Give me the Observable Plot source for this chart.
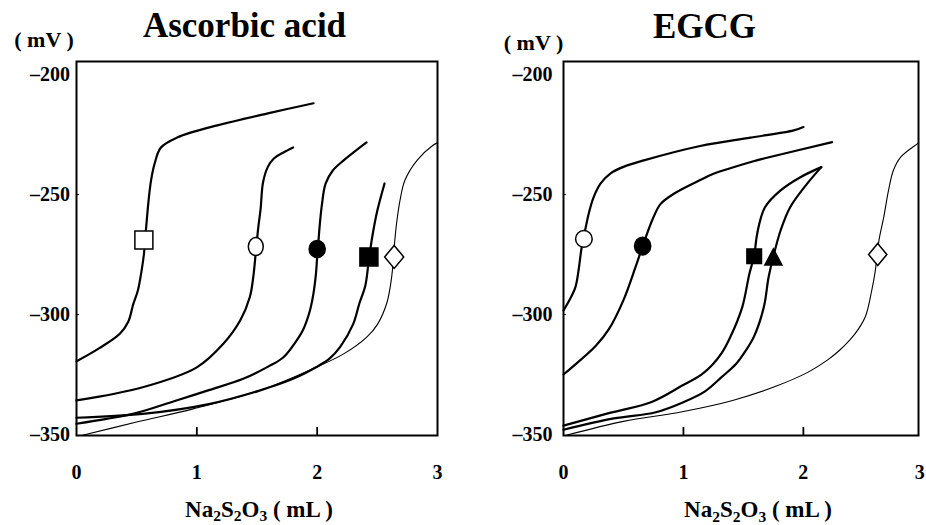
<!DOCTYPE html>
<html><head><meta charset="utf-8">
<script src="https://cdn.jsdelivr.net/npm/d3@7"></script>
<script src="https://cdn.jsdelivr.net/npm/@observablehq/plot@0.6"></script>
<style>
body{margin:0;background:#fff}
#fig{display:flex;width:926px;height:525px;overflow:hidden;background:#fff}
#fig svg{flex:none;overflow:hidden}
</style></head><body><div id="fig"></div>
<script>
// ---- tick labels & titles ----
const xTicks = [0, 1, 2, 3];
const yTicks = [-200, -250, -300, -350];
const panelTitles = ["Ascorbic acid", "EGCG"];
const yUnit = "( mV )";
const xLabelParts = [["Na", false], ["2", true], ["S", false], ["2", true], ["O", false], ["3", true], [" ( mL )", false]];

// ---- Ascorbic acid: titration curves [mL, mV] ----
const ascOpenSquare = [[0,-319.5],[0.19,-314],[0.36,-308],[0.43,-303],[0.47,-296],[0.51,-290],[0.54,-282],[0.56,-275],[0.58,-263],[0.6,-252],[0.62,-244],[0.65,-237],[0.7,-230.5],[0.84,-226.2],[1.17,-221.2],[1.59,-216.2],[1.97,-212]];
const ascOpenCircle = [[0,-335.8],[0.55,-330.3],[1.0,-322],[1.22,-312.2],[1.36,-302.5],[1.44,-292.8],[1.47,-284],[1.49,-274],[1.51,-264],[1.53,-256],[1.55,-245],[1.59,-238.5],[1.64,-235],[1.72,-232.5],[1.8,-230.4]];
const ascFilledCircle = [[0,-345.5],[0.25,-343.5],[0.5,-341],[0.83,-335.8],[1.1,-331.5],[1.385,-326.8],[1.6,-321.5],[1.72,-317.8],[1.82,-311.5],[1.88,-306.7],[1.94,-298.3],[1.97,-291],[1.99,-283],[2.0,-276],[2.01,-270],[2.02,-263.5],[2.04,-254],[2.07,-245.5],[2.13,-240],[2.22,-235.8],[2.41,-228.3]];
const ascFilledSquare = [[0,-343],[0.55,-341.4],[1.11,-337.2],[1.52,-331.7],[1.8,-326.8],[1.99,-322],[2.1,-318.5],[2.19,-313.6],[2.3,-303.9],[2.35,-295.5],[2.4,-288],[2.43,-277],[2.46,-267],[2.5,-256.7],[2.56,-245.4]];
const ascOpenDiamond = [[0.05,-350.3],[0.5,-344.8],[0.97,-339.3],[1.52,-331.7],[1.99,-322],[2.22,-316.4],[2.41,-309.5],[2.5,-304.2],[2.58,-295],[2.62,-284],[2.64,-272],[2.66,-262],[2.69,-252],[2.73,-244],[2.83,-235.8],[2.96,-229.6],[3.0,-228.5]];
const ascMarkers = [
  {series: "openSquare", x: 0.56, y: -269},
  {series: "openCircle", x: 1.49, y: -271.7},
  {series: "filledCircle", x: 2.0, y: -272.7},
  {series: "filledSquare", x: 2.43, y: -276},
  {series: "openDiamond", x: 2.64, y: -276}
];

// ---- EGCG: titration curves [mL, mV] ----
const egcgOpenCircle = [[0,-298.3],[0.05,-294],[0.1,-288.5],[0.13,-280],[0.15,-272.5],[0.18,-265],[0.21,-258],[0.25,-251.3],[0.31,-245.4],[0.39,-241.3],[0.5,-238.5],[0.67,-235.8],[1.14,-229.8],[1.56,-226.3],[1.92,-223.3],[2.0,-221.9]];
const egcgFilledCircle = [[0,-325],[0.08,-321.6],[0.27,-313],[0.38,-306],[0.5,-294],[0.6,-280.3],[0.66,-271.5],[0.75,-259.5],[0.81,-253.9],[0.92,-249.7],[1.14,-244],[1.25,-241.4],[1.61,-235.8],[1.67,-235],[2.24,-228.2]];
const egcgFilledSquare = [[0,-346.3],[0.37,-341.2],[0.74,-336.3],[0.99,-329.6],[1.15,-325],[1.24,-321],[1.32,-316],[1.39,-309.5],[1.49,-297],[1.55,-283],[1.59,-275.5],[1.61,-267.8],[1.64,-260.8],[1.68,-255.3],[1.81,-248.3],[1.975,-242.8],[2.15,-238.6]];
const egcgFilledTriangle = [[0,-348],[0.42,-343.3],[0.77,-340.7],[1.0,-336.5],[1.18,-332],[1.32,-326],[1.44,-320.5],[1.52,-315],[1.59,-309],[1.67,-297],[1.71,-284.5],[1.75,-275.8],[1.81,-265],[1.89,-255.3],[2.03,-245.6],[2.15,-238.6]];
const egcgOpenDiamond = [[0.03,-350.2],[0.5,-344.5],[0.99,-340.5],[1.41,-335.8],[1.77,-329.9],[2.04,-324],[2.2,-319],[2.3,-315],[2.39,-310.5],[2.46,-306],[2.52,-300.5],[2.57,-290],[2.6,-281.7],[2.63,-269.2],[2.67,-259.5],[2.71,-248.3],[2.75,-240],[2.81,-234.5],[2.95,-228.9],[2.96,-228.5]];
const egcgMarkers = [
  {series: "openCircle", x: 0.17, y: -268.5},
  {series: "filledCircle", x: 0.66, y: -271.5},
  {series: "filledSquare", x: 1.59, y: -275.7},
  {series: "filledTriangle", x: 1.75, y: -276},
  {series: "openDiamond", x: 2.62, y: -275}
];

// ---- symbols (r = half size) ----
const half = s => Math.sqrt(s / Math.PI);
const symSquare = {draw(c, s) { const r = half(s); c.rect(-r, -r, 2 * r, 2 * r); }};
const symEllipse = (ax) => ({draw(c, s) {
  const ry = half(s), rx = ry * ax, k = 0.5523;
  c.moveTo(rx, 0);
  c.bezierCurveTo(rx, ry * k, rx * k, ry, 0, ry);
  c.bezierCurveTo(-rx * k, ry, -rx, ry * k, -rx, 0);
  c.bezierCurveTo(-rx, -ry * k, -rx * k, -ry, 0, -ry);
  c.bezierCurveTo(rx * k, -ry, rx, -ry * k, rx, 0);
  c.closePath();
}});
const symDiamond = {draw(c, s) { const r = half(s), w = r * 0.83; c.moveTo(0, -r); c.lineTo(w, 0); c.lineTo(0, r); c.lineTo(-w, 0); c.closePath(); }};
const symTriangle = {draw(c, s) { const r = half(s), h = r * 0.94; c.moveTo(0, -h); c.lineTo(r, h); c.lineTo(-r, h); c.closePath(); }};

const FONT = "'Liberation Serif', 'Times New Roman', serif";
const yMin = -350.4, yMax = -194.6;

function panel(cfg) {
  const marks = [
    Plot.frame({stroke: "black", strokeWidth: 2}),
    Plot.ruleX([1, 2], {x: d => d, y1: yMin, y2: yMin + 3.3, stroke: "black", strokeWidth: 1.8}),
    Plot.ruleY([-250, -300], {y: d => d, x1: 0, x2: cfg.xMax * 0.008, stroke: "black", strokeWidth: 1})
  ];
  for (const c of cfg.curves) {
    marks.push(Plot.line(c.points, {x: d => d[0], y: d => d[1], curve: "catmull-rom", stroke: "black", strokeWidth: c.width, strokeLinejoin: "round"}));
  }
  for (const m of cfg.markers) {
    const st = cfg.markerStyle[m.series];
    marks.push(Plot.dot([m], {x: "x", y: "y", symbol: st.symbol, r: st.r, fill: st.fill, stroke: "black", strokeWidth: 1.5}));
  }
  const tickText = {y: yMin, dy: 37, text: d => String(d), fontSize: 20, fontWeight: "bold", fill: "black"};
  marks.push(Plot.text(xTicks.slice(0, -1), {x: d => d, ...tickText}));
  marks.push(Plot.text(xTicks.slice(-1), {x: d => d, dx: cfg.lastTickDx, ...tickText}));
  marks.push(Plot.text(yTicks, {x: 0, y: d => d, dx: -cfg.yPad, textAnchor: "end", text: d => "\u2013" + Math.abs(d), fontSize: 20, fontWeight: "bold", fill: "black"}));
  marks.push(Plot.text([cfg.title], {frameAnchor: "top", text: d => d, dx: cfg.titleDx, dy: cfg.titleDy, lineAnchor: "bottom", fontSize: 35, fontWeight: "bold", fill: "black"}));
  marks.push(Plot.text([yUnit], {frameAnchor: "top-left", text: d => d, dx: cfg.unitDx, dy: cfg.unitDy, textAnchor: "middle", lineAnchor: "bottom", fontSize: 22, fontWeight: "bold", fill: "black"}));

  const svg = Plot.plot({
    width: 463, height: 525,
    marginLeft: cfg.marginLeft, marginRight: cfg.marginRight, marginTop: 61, marginBottom: 90,
    x: {domain: [0, cfg.xMax], axis: null},
    y: {domain: [yMin, yMax], axis: null},
    style: {fontFamily: FONT, background: "white", color: "black"},
    marks
  });
  // x-axis label with subscripts
  const t = d3.select(svg).append("text")
    .attr("x", cfg.xLabelX).attr("y", cfg.xLabelY)
    .attr("text-anchor", "middle")
    .attr("font-family", FONT).attr("font-weight", "bold").attr("font-size", 23).attr("fill", "black");
  let prevSub = false;
  for (const [s, sub] of xLabelParts) {
    const sp = t.append("tspan").text(s);
    if (sub && !prevSub) sp.attr("dy", 4.5).attr("font-size", 15.5);
    else if (sub) sp.attr("font-size", 15.5);
    else if (prevSub) sp.attr("dy", -4.5);
    prevSub = sub;
  }
  return svg;
}

const fig = document.getElementById("fig");

fig.appendChild(panel({
  title: panelTitles[0],
  marginLeft: 76, marginRight: 26, xMax: 3, lastTickDx: 0,
  titleDx: -12.5, titleDy: -25, unitDx: -32.5, unitDy: -15, yPad: 6.5,
  xLabelX: 259, xLabelY: 516.5,
  curves: [
    {points: ascOpenSquare, width: 2.2},
    {points: ascOpenCircle, width: 2.2},
    {points: ascFilledCircle, width: 2.2},
    {points: ascFilledSquare, width: 2.2},
    {points: ascOpenDiamond, width: 1.1}
  ],
  markers: ascMarkers,
  markerStyle: {
    openSquare: {symbol: symSquare, r: 9, fill: "white"},
    openCircle: {symbol: symEllipse(0.83), r: 9, fill: "white"},
    filledCircle: {symbol: symEllipse(0.95), r: 8.5, fill: "black"},
    filledSquare: {symbol: symSquare, r: 9, fill: "black"},
    openDiamond: {symbol: symDiamond, r: 11.5, fill: "white"}
  }
}));

fig.appendChild(panel({
  title: panelTitles[1],
  marginLeft: 100, marginRight: 8, xMax: 2.96, lastTickDx: -3.5,
  titleDx: -36.5, titleDy: -24, unitDx: -30, unitDy: -12, yPad: 11,
  xLabelX: 295, xLabelY: 517,
  curves: [
    {points: egcgOpenCircle, width: 2.2},
    {points: egcgFilledCircle, width: 2.2},
    {points: egcgFilledSquare, width: 2.2},
    {points: egcgFilledTriangle, width: 2.2},
    {points: egcgOpenDiamond, width: 1.1}
  ],
  markers: egcgMarkers,
  markerStyle: {
    openCircle: {symbol: symEllipse(1), r: 8.3, fill: "white"},
    filledCircle: {symbol: symEllipse(0.92), r: 8.8, fill: "black"},
    filledSquare: {symbol: symSquare, r: 7.3, fill: "black"},
    filledTriangle: {symbol: symTriangle, r: 8.5, fill: "black"},
    openDiamond: {symbol: symDiamond, r: 11, fill: "white"}
  }
}));
</script>
</body></html>
